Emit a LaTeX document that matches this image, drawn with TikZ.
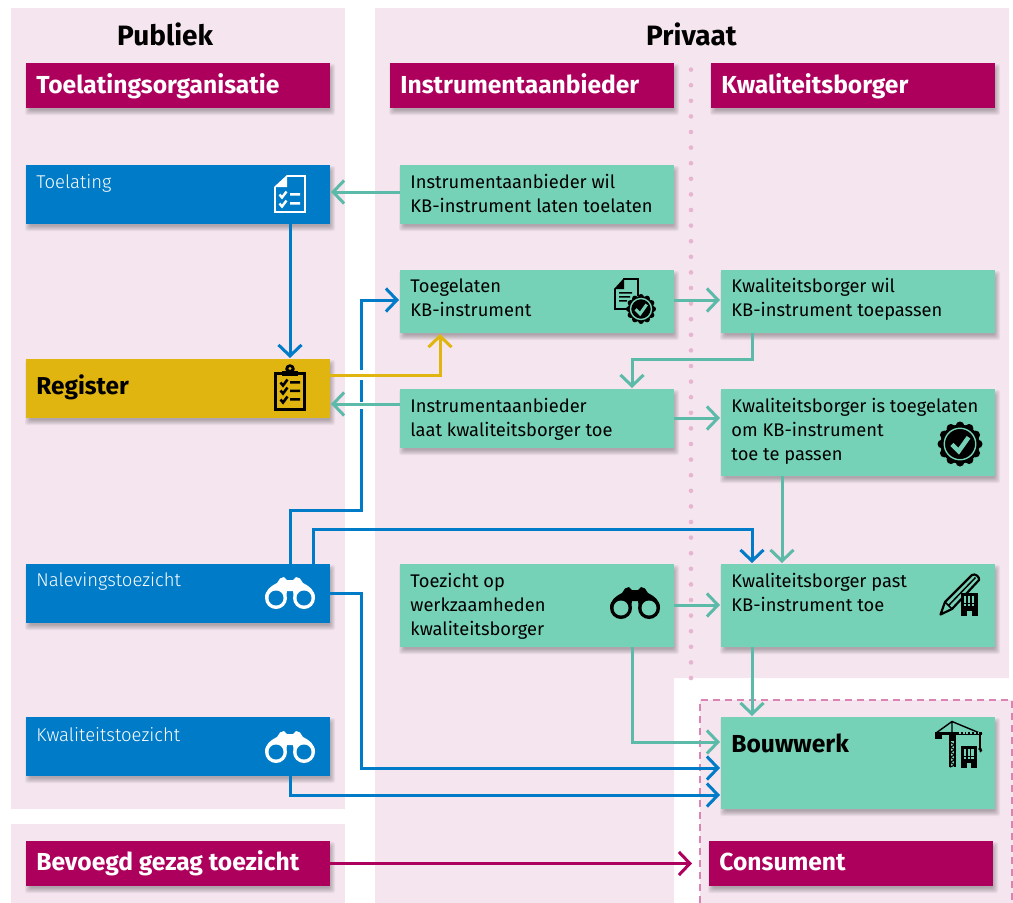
\documentclass[tikz,border=0pt]{standalone}
\usepackage{fontspec}
\setmainfont{Fira Sans}
\usetikzlibrary{arrows.meta,calc}
\definecolor{panel}{HTML}{F5E5EF}
\definecolor{ropurple}{HTML}{AD005C}
\definecolor{roblue}{HTML}{007BC7}
\definecolor{royellow}{HTML}{E1B50F}
\definecolor{rogreen}{HTML}{76D2B6}
\definecolor{rogreenline}{HTML}{5CBBA8}
\definecolor{dotpink}{HTML}{E8B4D0}
\definecolor{dashpink}{HTML}{DB84B4}
\newfontface\light{Fira Sans Light}
\tikzset{
  titlebox/.style={fill=ropurple,text=white,font=\fontsize{24.6}{24}\selectfont\bfseries},
  bluebox/.style={fill=roblue,text=white,font=\fontsize{18.5}{24}\selectfont\light},
  greenbox/.style={fill=rogreen,text=black,font=\fontsize{18.3}{24}\selectfont},
  greenbold/.style={fill=rogreen,text=black,font=\fontsize{24.6}{24}\selectfont\bfseries},
  yellowbox/.style={fill=royellow,text=black,font=\fontsize{24.4}{24}\selectfont\bfseries},
  head/.style={anchor=base west,inner sep=0pt,font=\fontsize{28}{28}\selectfont\bfseries},
  conn/.style={line width=3pt,shorten >=1pt,-{Straight Barb[length=11pt,width=23pt,line width=3pt]}},
  plainconn/.style={line width=3pt},
  tealconn/.style={conn,draw=rogreenline},
  blueconn/.style={conn,draw=roblue},
  yellowconn/.style={conn,draw=royellow},
  purpleconn/.style={conn,draw=ropurple,line width=2.6pt},
}
\newcommand{\lin}[1]{\hbox{#1}}
\newcommand{\bx}[8]{%
  \pgfmathsetmacro\bxw{#5-#3}\pgfmathsetmacro\bxh{#6-#4}\pgfmathsetmacro\bxt{#7-#4-24}%
  \foreach \e in {-2,...,3}{\fill[black,opacity=.05,rounded corners=2pt] (#3+2-\e,#4+4-\e) rectangle (#5+2+\e,#6+4+\e);}%
  \node[#1,anchor=north west,inner sep=0pt,outer sep=0pt] (#2) at (#3,#4)
    {\hbox to \bxw pt{\hskip10.4pt\vbox to \bxh pt{\vskip\bxt pt\prevdepth=0pt #8\vss}\hss}};%
}
% check mark
\newcommand{\chk}[4]{\draw[#4,line width=#3 pt,line cap=butt,line join=miter] (#1-3.5,#2-.5) -- (#1-1,#2+2.5) -- (#1+3.5,#2-3.5);}
% seal: centre, outer radius, colours
\newcommand{\seal}[5]{%
  \fill[#4] (#1,#2) circle ({#3*.87});
  \foreach \a in {0,30,...,330}{\fill[#4] ($(#1,#2)+(\a:#3*.81)$) circle ({#3*.19});}
  \draw[#5,line width=1.4pt] (#1,#2) circle ({#3*.70});
  \draw[#5,line width={#3*.2 pt},line join=miter] (#1-#3*.36,#2+#3*.02) -- (#1-#3*.06,#2+#3*.32) -- (#1+#3*.38,#2-#3*.30);
}
% binoculars: shift, ink colour, hole colour
\newcommand{\binoc}[4]{%
  \begin{scope}[shift={(#1,#2)}]
  \fill[#3] (5,33) .. controls (5,25) and (11,21) .. (17,18) -- (20,13.5) -- (24,12) -- (27,15) -- (33,15) -- (36,12) -- (40,13.5) -- (43,18) .. controls (49,21) and (55,25) .. (55,33) -- (34,33) -- (33,26) -- (27,26) -- (26,33) -- cycle;
  \fill[#3] (16,33) circle (11) (44,33) circle (11);
  \fill[#4] (16,33) circle (7.5) (44,33) circle (7.5);
  \end{scope}}
% office block
\newcommand{\block}[7]{%
  \fill[#6] (#1,#2) rectangle (#3,#4);
  \foreach \i in {0,1,2}{\foreach \j in {0,1,2,3}{\fill[#7] ({#1+2.8+\i*(#3-#1-4.6)/3},{#2+2.5+\j*2.9}) rectangle ++(2.1,2.1);}}
  \fill[#7] ({(#1+#3)/2-2.2},#4-5.5) rectangle ({(#1+#3)/2+2.2},#4);
}
\begin{document}
\begin{tikzpicture}[x=1pt,y=-1pt]
\useasboundingbox (0,0) rectangle (1013,903);
% panels
\fill[panel] (11,8) rectangle (345,809);
\fill[panel] (11,824) rectangle (345,903);
\fill[panel] (375,8) -- (1009,8) -- (1009,678) -- (674,678) -- (674,903) -- (375,903) -- cycle;
\fill[panel] (700,700) rectangle (1013,903);
\draw[dashpink,line width=1.8pt,dash pattern=on 7pt off 5pt] (700,903) -- (700,700) -- (1012,700) -- (1012,903);
\foreach \i in {0,...,39}{\fill[dotpink] (691,678-\i*15.6) circle (2.3);}
\node[head] (publiek) at (117,45) {Publiek};
\node[head] (privaat) at (646,45) {Privaat};
% boxes
\bx{titlebox}{toelorg}{26}{63}{330}{108}{93}{\lin{Toelatingsorganisatie}}
\bx{titlebox}{instr}{390}{63}{674}{108}{93}{\lin{Instrumentaanbieder}}
\bx{titlebox}{kwal}{711}{63}{995}{108}{93}{\lin{Kwaliteitsborger}}
\bx{bluebox}{toel}{26}{165}{330}{224}{188}{\lin{Toelating}}
\bx{greenbox}{iw}{400}{165}{674}{224}{188}{\lin{Instrumentaanbieder wil}\lin{KB-instrument laten toelaten}}
\bx{greenbox}{toeg}{400}{270}{674}{333}{292}{\lin{Toegelaten}\lin{KB-instrument}}
\bx{greenbox}{kwil}{721}{270}{995}{333}{292}{\lin{Kwaliteitsborger wil}\lin{KB-instrument toepassen}}
\bx{yellowbox}{reg}{26}{359}{330}{418}{394}{\lin{Register}}
\bx{greenbox}{il}{400}{389}{674}{448}{412}{\lin{Instrumentaanbieder}\lin{laat kwaliteitsborger toe}}
\bx{greenbox}{kis}{721}{389}{995}{476}{412}{\lin{Kwaliteitsborger is toegelaten}\lin{om KB-instrument}\lin{toe te passen}}
\bx{bluebox}{nal}{26}{564}{330}{623}{586}{\lin{Nalevingstoezicht}}
\bx{greenbox}{tz}{400}{564}{674}{647}{587}{\lin{Toezicht op}\lin{werkzaamheden}\lin{kwaliteitsborger}}
\bx{greenbox}{kpast}{721}{564}{995}{647}{587}{\lin{Kwaliteitsborger past}\lin{KB-instrument toe}}
\bx{bluebox}{kwt}{26}{717}{330}{776}{741}{\lin{Kwaliteitstoezicht}}
\bx{greenbold}{bouw}{721}{717}{995}{809}{752}{\lin{Bouwwerk}}
\bx{titlebox}{bev}{26}{841}{330}{886}{870}{\lin{Bevoegd gezag toezicht}}
\bx{titlebox}{cons}{709}{841}{993}{886}{870}{\lin{Consument}}
% icons
\begin{scope}[shift={(260,165)}]
  \draw[white,line width=2.6pt,line join=miter] (27,11) -- (45,11) -- (45,47) -- (15,47) -- (15,22);
  \fill[white] (14,22) -- (27,10) -- (27,22) -- cycle;
  \chk{23}{30}{2.4}{white}\chk{23}{39}{2.4}{white}
  \fill[white] (30,28) rectangle (40,30.5) (30,37) rectangle (40,39.5);
\end{scope}
\begin{scope}[shift={(260,358)}]
  \draw[black,line width=3pt,line join=miter] (22,15) -- (15,15) -- (15,51) -- (44,51) -- (44,15) -- (38,15);
  \fill[black] (22,13) rectangle (38,18);
  \fill[black] (30,11) circle (4.8);
  \fill[royellow] (30,10.5) circle (1.6);
  \chk{24}{25}{2.6}{black}\chk{24}{33}{2.6}{black}\chk{24}{42}{2.6}{black}
  \fill[black] (30,23) rectangle (40,25.5) (30,31.5) rectangle (40,34) (30,40) rectangle (40,42.5);
\end{scope}
\begin{scope}[shift={(605,272)}]
  \draw[black,line width=2.6pt,line join=miter] (18,7) -- (33,7) -- (33,24) (22,37) -- (10,37) -- (10,17);
  \fill[black] (9,17) -- (19,6) -- (19,17) -- cycle;
  \fill[black] (14,20) rectangle (27,21.5) (14,24) rectangle (25,25.5) (14,28) rectangle (22,29.5);
  \seal{36}{37}{15}{black}{rogreen}
\end{scope}
\seal{960}{444}{22.5}{black}{rogreen}
\binoc{260}{565}{white}{roblue}
\binoc{260}{719}{white}{roblue}
\binoc{605}{575}{black}{rogreen}
\begin{scope}[shift={(930,565)}]
  \draw[black,line width=2.2pt,line join=round] (10.5,49.5) -- (15,37) -- (42,10) .. controls (45,8) and (50,12) .. (49,15) -- (22,44) -- cycle;
  \draw[black,line width=1.5pt] (15,37) -- (22,44) (18.5,40.5) -- (45.5,12.5);
  \block{31}{28}{48}{51}{}{black}{rogreen}
\end{scope}
\begin{scope}[shift={(930,717)}]
  \draw[black,line width=1.4pt] (6,16) -- (22,4.5) -- (52,17) (22,4.5) -- (22,16);
  \fill[black] (6,14.5) rectangle (52,17.5);
  \fill[black] (5,15) rectangle (12,22);
  \fill[black] (19,15) rectangle (26,24);
  \draw[black,line width=1.4pt] (20,24) -- (20,50) (25,24) -- (25,50);
  \foreach \k in {0,...,4}{\draw[black,line width=1.1pt] (20,{25+\k*5}) -- (25,{28+\k*5}) -- (20,{30+\k*5});}
  \draw[black,line width=1.1pt] (50,17) -- (50,32);
  \draw[black,line width=1.1pt] (50,32) circle (1) (50,35) arc (90:-120:1.5);
  \foreach \k in {0,...,5}{\fill[rogreen] ({29+\k*3.7},15.2) rectangle ++(1.8,1.4);}
  \block{31}{29}{47}{51}{}{black}{rogreen}
\end{scope}
% connectors
\coordinate (b1) at (361,510);
\coordinate (b2) at (361,409);
\coordinate (b3) at (361,402);
\coordinate (b4) at (361,380);
\coordinate (b5) at (361,370);
\coordinate (b6) at (361,300);
\draw[plainconn,draw=roblue,line join=miter] ([shift={(264,0)}]nal.north west) |- (b1) -- (b2);
\draw[plainconn,draw=roblue] (b3) -- (b4);
\draw[blueconn] (b5) -- (b6) -- ([shift={(0,30)}]toeg.north west);
\draw[blueconn] ([shift={(287,0)}]nal.north west) -- ++(0,-35) -| ([shift={(31,0)}]kpast.north west);
\draw[blueconn] ([shift={(0,29)}]nal.north east) -- ++(31,0) |- ([shift={(0,51)}]bouw.north west);
\draw[blueconn] ([shift={(264,0)}]kwt.south west) |- ([shift={(0,78)}]bouw.north west);
\draw[blueconn] ([shift={(264,0)}]toel.south west) -- ([shift={(264,0)}]reg.north west);
\draw[yellowconn] ([shift={(0,16)}]reg.north east) -| ([shift={(40,0)}]toeg.south west);
\draw[tealconn] ([shift={(0,27)}]iw.north west) -- ([shift={(0,27)}]toel.north east);
\draw[tealconn] ([shift={(0,30)}]toeg.north east) -- ([shift={(0,30)}]kwil.north west);
\draw[tealconn] ([shift={(31,0)}]kwil.south west) -- ++(0,26) -| ([shift={(232,0)}]il.north west);
\draw[tealconn] ([shift={(0,15)}]il.north west) -- ([shift={(0,45)}]reg.north east);
\draw[tealconn] ([shift={(0,29)}]il.north east) -- ([shift={(0,29)}]kis.north west);
\draw[tealconn] ([shift={(61,0)}]kis.south west) -- ([shift={(61,0)}]kpast.north west);
\draw[tealconn] ([shift={(0,41)}]tz.north east) -- ([shift={(0,41)}]kpast.north west);
\draw[tealconn] ([shift={(232,0)}]tz.south west) |- ([shift={(0,25)}]bouw.north west);
\draw[tealconn] ([shift={(31,0)}]kpast.south west) -- ([shift={(31,0)}]bouw.north west);
\draw[purpleconn] (bev.east) -- ([shift={(-16,0)}]cons.west);
\end{tikzpicture}
\end{document}
